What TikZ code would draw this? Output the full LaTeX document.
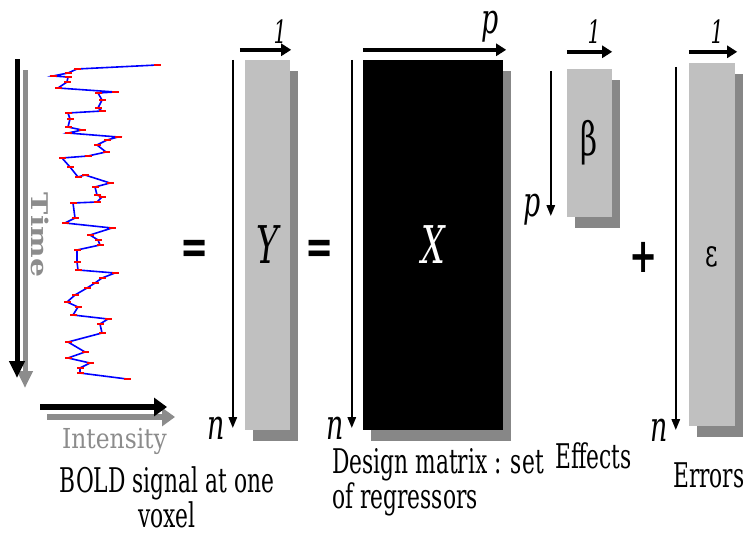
\documentclass[tikz,border=0pt]{standalone}
\usepackage{fontspec}
\setmainfont[FakeStretch=0.64]{DejaVu Serif}
\setsansfont[FakeStretch=0.7]{DejaVu Sans}
\newfontfamily\intfont[FakeStretch=0.85]{DejaVu Serif}
\newfontfamily\timefont[FakeStretch=1.3]{DejaVu Serif}
\usetikzlibrary{positioning, arrows.meta, shadows, plotmarks}

\definecolor{boxgray}{HTML}{C0C0C0}
\definecolor{shadegray}{HTML}{878787}
\definecolor{axisgray}{HTML}{8C8C8C}

\begin{document}
\begin{tikzpicture}[
  x=1pt, y=-1pt,
  matbox/.style={rectangle, inner sep=0pt, fill=boxgray,
    drop shadow={shadow xshift=8pt, shadow yshift=-11pt, fill=shadegray, opacity=1}},
  dimline/.style={line width=2.5pt, -{Triangle[length=11pt, width=8pt]}},
  sizearrow/.style={line width=4pt, -{Triangle[length=10pt, width=12pt]}},
  axisarrow/.style={line width=5pt, -{Triangle[length=17pt, width=15pt]}},
  dimlabel/.style={inner sep=0pt, font=\fontsize{42}{42}\selectfont\itshape},
  onelabel/.style={inner sep=0pt, font=\fontsize{32}{32}\selectfont\itshape},
  caption/.style={inner sep=0pt, font=\fontsize{34}{35}\selectfont},
  opsign/.style={inner sep=0pt, font=\fontsize{48}{48}\selectfont\sffamily\bfseries},
  signal/.style={blue, line width=1.6pt, mark=-, mark size=3.5pt,
    mark options={red, line width=1.2pt}}
]
\useasboundingbox (0,0) rectangle (748,533);

% -------------------------
% SIGNAL AND ITS AXES
% -------------------------

\coordinate (time0) at (17,59);
\coordinate (time1) at (17,378);
\coordinate (timeg0) at (25,70);
\coordinate (timeg1) at (25,388);
\coordinate (int0) at (40,407);
\coordinate (int1) at (167,407);
\coordinate (intg0) at (47,417);
\coordinate (intg1) at (175,417);

\draw[axisarrow, axisgray] (timeg0) -- (timeg1);
\draw[axisarrow] (time0) -- (time1);
\draw[axisarrow, axisgray, line width=6pt, -{Triangle[length=13pt, width=18pt]}] (intg0) -- (intg1);
\draw[axisarrow, line width=6pt, -{Triangle[length=13pt, width=18pt]}] (int0) -- (int1);

\node[rotate=-90, text=axisgray, inner sep=0pt, font=\fontsize{23}{23}\selectfont\timefont\bfseries]
  (time) at (40,235) {Time};
\node[anchor=base west, text=axisgray, inner sep=0pt, font=\fontsize{27.5}{28}\selectfont\intfont]
  (intensity) at (62,448) {Intensity};

\draw[signal] plot coordinates {
  (157,65) (77,69) (68,73) (53,76) (68,77) (67,82) (58,88) (115,92) (98,93)
  (102,100) (98,108) (102,111) (68,113) (70,119) (68,127) (82,130) (68,133)
  (118,137) (107,140) (97,145) (106,152) (88,156) (62,158) (70,167) (78,177)
  (85,175) (110,183) (95,187) (97,195) (102,197) (97,202) (73,203) (75,218)
  (65,223) (112,228) (90,235) (98,240) (100,245) (77,250) (77,262) (78,270)
  (115,273) (102,278) (95,283) (87,288) (75,295) (67,302) (78,307) (73,315)
  (108,319) (100,324) (102,333) (68,342) (85,352) (68,358) (90,363) (80,368)
  (80,373) (127,379)};

% base of a two-line node sits on its last line
\node[caption, align=center, anchor=base] (boldcap) at (167,527) {BOLD signal at one\\voxel};

% -------------------------
% MATRICES
% -------------------------

\node[matbox, minimum width=45pt, minimum height=370pt,
  font=\fontsize{52}{52}\selectfont\itshape] (Ybox) at (267.5,245) {Y};
\node[matbox, fill=black, text=white, minimum width=140pt, minimum height=370pt,
  font=\fontsize{52}{52}\selectfont\itshape] (Xbox) at (433,245) {X};
\node[matbox, minimum width=45pt, minimum height=148pt,
  font=\fontsize{46}{46}\selectfont] (Bbox) at (589.5,143) {β};
\node[matbox, minimum width=46pt, minimum height=363pt] (Ebox) at (712,244.5) {};
\node[inner sep=0pt, font=\fontsize{38}{38}\selectfont] (eps) at ([yshift=-12pt]Ebox.center) {ε};

\node[opsign] (eq1) at (195,252) {=};
\node[opsign] (eq2) at (320,252) {=};
\node[opsign] (plus) at (644,257) {+};

% dimensions of Y
\coordinate (Ytop) at ([xshift=-12pt]Ybox.north west);
\coordinate (Ybot) at ([shift={(-12pt,2pt)}]Ybox.south west);
\coordinate (Yl) at ([shift={(-5pt,10pt)}]Ybox.north west);
\coordinate (Yr) at ([shift={(1pt,10pt)}]Ybox.north east);
\draw[dimline] (Ytop) -- (Ybot);
\draw[sizearrow] (Yl) -- (Yr);
\node[dimlabel, left=8pt of Ybot] (nY) {n};
\node[onelabel] (oneY) at ([shift={(-11pt,18pt)}]Yr) {1};

% dimensions of X
\coordinate (Xtop) at ([xshift=-11pt]Xbox.north west);
\coordinate (Xbot) at ([shift={(-11pt,2pt)}]Xbox.south west);
\coordinate (Xl) at ([shift={(0pt,10pt)}]Xbox.north west);
\coordinate (Xr) at ([shift={(3pt,10pt)}]Xbox.north east);
\draw[dimline] (Xtop) -- (Xbot);
\draw[sizearrow] (Xl) -- (Xr);
\node[dimlabel, left=8pt of Xbot] (nX) {n};
\node[dimlabel] (pX) at ([shift={(-16pt,23pt)}]Xr) {p};

% dimensions of beta
\coordinate (Btop) at ([shift={(-16pt,-2pt)}]Bbox.north west);
\coordinate (Bbot) at ([shift={(-16pt,1pt)}]Bbox.south west);
\coordinate (Bl) at ([shift={(0pt,17pt)}]Bbox.north west);
\coordinate (Br) at ([shift={(0pt,17pt)}]Bbox.north east);
\draw[dimline] (Btop) -- (Bbot);
\draw[sizearrow] (Bl) -- (Br);
\node[dimlabel, left=10pt of Bbot, yshift=7pt] (pB) {p};
\node[onelabel] (oneB) at ([shift={(-18pt,20pt)}]Br) {1};

% dimensions of epsilon
\coordinate (Etop) at ([shift={(-13pt,-4pt)}]Ebox.north west);
\coordinate (Ebot) at ([shift={(-13pt,-4pt)}]Ebox.south west);
\coordinate (El) at ([shift={(0pt,11pt)}]Ebox.north west);
\coordinate (Er) at ([shift={(2pt,11pt)}]Ebox.north east);
\draw[dimline] (Etop) -- (Ebot);
\draw[sizearrow] (El) -- (Er);
\node[dimlabel, left=8pt of Ebot] (nE) {n};
\node[onelabel] (oneE) at ([shift={(-20pt,20pt)}]Er) {1};

% -------------------------
% CAPTIONS
% -------------------------

\node[caption, align=left, anchor=base west] (design) at (332,508) {Design matrix : set\\of regressors};
\node[caption, anchor=base west] (effects) at (555,468) {Effects};
\node[caption, anchor=base west] (errors) at (673,487) {Errors};

\end{tikzpicture}
\end{document}
